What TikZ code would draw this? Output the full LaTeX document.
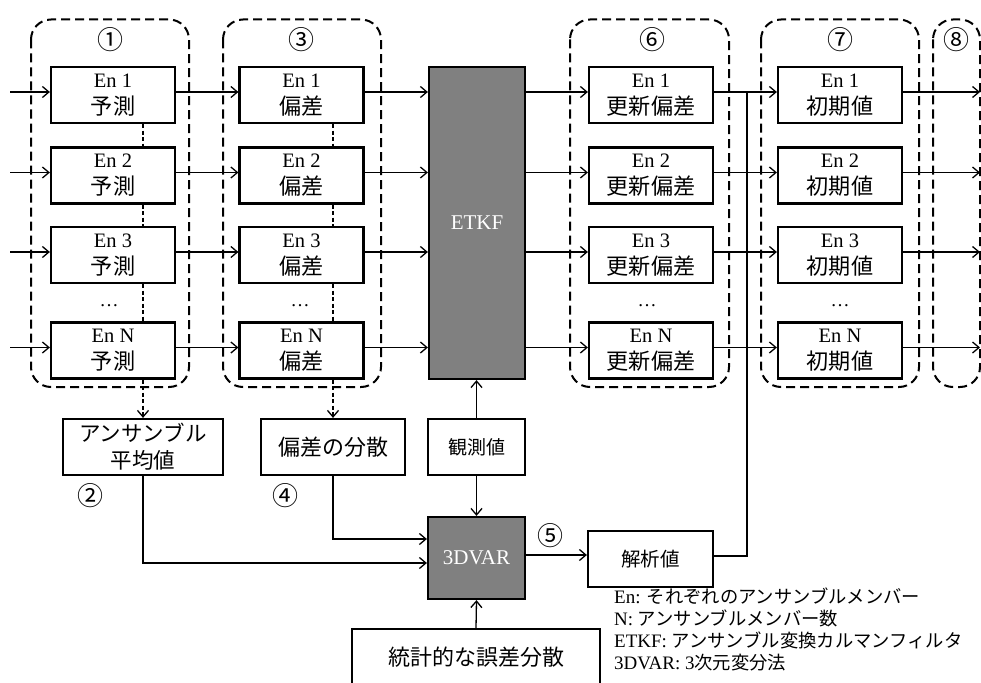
\documentclass[tikz,border=0pt]{standalone}
\usepackage{fontspec}
\setmainfont{Liberation Serif}
\newfontfamily\jp[Scale=1.08]{Noto Sans CJK JP}
\newfontfamily\jpl{Noto Sans CJK JP}
\usetikzlibrary{arrows.meta}
\tikzset{
  box/.style={draw, line width=2.2pt, fill=white, minimum width=124pt, minimum height=56pt,
    inner sep=0pt, align=center, font=\fontsize{20.5}{27}\selectfont},
  gray box/.style={draw, line width=2.2pt, fill={rgb,255:red,128;green,128;blue,128}, text=white,
    inner sep=0pt, align=center, font=\fontsize{21}{26}\selectfont},
  grp/.style={draw, line width=2pt, dash pattern=on 9pt off 5pt, rounded corners=20pt},
  arr/.style={-{Straight Barb[length=6.5pt,width=11pt]}, line width=1.3pt},
  darr/.style={-{Straight Barb[length=6.5pt,width=11pt]}, line width=1.3pt, dash pattern=on 4pt off 2.5pt},
  dline/.style={line width=1.3pt, dash pattern=on 4pt off 2.5pt},
  plain/.style={line width=1.3pt},
  num/.style={font=\jpl\fontsize{26}{26}\selectfont, inner sep=0pt},
  dots/.style={font=\fontsize{19}{19}\selectfont, inner sep=0pt},
}
\begin{document}
\begin{tikzpicture}[x=1pt,y=-1pt]
\useasboundingbox (0,0) rectangle (981,682);
\clip (0,0) rectangle (981,682);
% group frames
\draw[grp] (31,19.5) rectangle (189,387);
\draw[grp] (223,19.5) rectangle (381,387);
\draw[grp] (570,19.5) rectangle (729,387);
\draw[grp] (761,19.5) rectangle (919,387);
\draw[grp] (933,19.5) rectangle (980,387);
\node[num] (n1) at (110,40) {①};
\node[num] (n3) at (301,40) {③};
\node[num] (n6) at (652,40) {⑥};
\node[num] (n7) at (840,40) {⑦};
\node[num] (n8) at (956,40) {⑧};
% columns
\foreach \i/\y/\t in {1/95/1, 2/175.5/2, 3/255/3, 4/350.5/N} {
  \node[box] (a\i) at (113,\y) {En \t\\{\jp 予測}};
  \node[box] (b\i) at (301.5,\y) {En \t\\{\jp 偏差}};
  \node[box] (c\i) at (651,\y) {En \t\\{\jp 更新偏差}};
  \node[box] (d\i) at (840,\y) {En \t\\{\jp 初期値}};
}
\node[dots] (e1) at (109,306) {\dots};
\node[dots] (e3) at (300,306) {\dots};
\node[dots] (e6) at (647,306) {\dots};
\node[dots] (e7) at (840,306) {\dots};
\node[gray box, minimum width=96pt, minimum height=312pt] (etkf) at (477,223) {ETKF};
\coordinate (L) at (10,0);
\coordinate (R) at (980,0);
\coordinate (J) at (747,0);
\foreach \i in {1,2,3,4} {
  \draw[arr] ([yshift=3pt]a\i.west -| L) -- ([yshift=3pt]a\i.west);
  \draw[arr] ([yshift=3pt]a\i.east) -- ([yshift=3pt]b\i.west);
  \draw[arr] ([yshift=3pt]b\i.east) -- ([yshift=3pt]b\i.east -| etkf.west);
  \draw[arr] ([yshift=3pt]c\i.west -| etkf.east) -- ([yshift=3pt]c\i.west);
  \draw[arr] ([yshift=3pt]c\i.east) -- ([yshift=3pt]d\i.west);
  \draw[arr] ([yshift=3pt]d\i.east) -- ([yshift=3pt]d\i.east -| R);
}
% dotted connections inside groups
\coordinate (ax) at (143,0);
\coordinate (bx) at (333,0);
\draw[dline] (a1.south -| ax) -- (a2.north -| ax);
\draw[dline] (a2.south -| ax) -- (a3.north -| ax);
\draw[dline] (a3.south -| ax) -- (a4.north -| ax);
\draw[dline] (b1.south -| bx) -- (b2.north -| bx);
\draw[dline] (b2.south -| bx) -- (b3.north -| bx);
\draw[dline] (b3.south -| bx) -- (b4.north -| bx);
% lower boxes
\node[box, minimum width=160pt, font=\jpl\fontsize{21.5}{27}\selectfont] (ave) at (143,447) {アンサンブル\\平均値};
\node[box, minimum width=144pt, font=\jpl\fontsize{22}{27}\selectfont] (dev) at (333,447) {偏差の分散};
\node[box, minimum width=97pt, font=\jpl\fontsize{19}{22}\selectfont] (obs) at (476.5,447) {観測値};
\node[gray box, minimum width=97pt, minimum height=82pt] (var) at (476.5,558) {3DVAR};
\node[box, minimum width=125pt, font=\jpl\fontsize{19.5}{22}\selectfont] (ana) at (650.5,559) {解析値};
\node[box, minimum width=248pt, font=\jpl\fontsize{22}{27}\selectfont] (stat) at (476,657) {統計的な誤差分散};
\node[num] (n2) at (90,496) {②};
\node[num] (n4) at (285,496) {④};
\node[num] (n5) at (550,536) {⑤};
\draw[darr] (a4.south -| ax) -- (ave.north);
\draw[darr] (b4.south -| bx) -- (dev.north);
\draw[arr] (obs.north) -- (obs.north |- etkf.south);
\draw[arr] (obs.south) -- (var.north);
\draw[arr] (stat.north) -- (var.south);
\draw[arr] (ave.south) |- ([yshift=-5pt]var.west);
\draw[arr] (dev.south) |- ([yshift=19pt]var.west);
\draw[arr] ([yshift=3pt]var.east) -- ([yshift=3pt]var.east -| ana.west);
\draw[plain] ([yshift=3pt]ana.east) -| ([yshift=3pt]c1.east -| J);
% legend
\node[anchor=north west, align=left, inner sep=0pt, font=\fontsize{19}{22}\selectfont] (legend) at (614,588)
  {En: {\jpl\fontsize{18.3}{22}\selectfont それぞれのアンサンブルメンバー}\\
   N: {\jpl\fontsize{18.3}{22}\selectfont アンサンブルメンバー数}\\
   ETKF: {\jpl\fontsize{18.3}{22}\selectfont アンサンブル変換カルマンフィルタ}\\
   3DVAR: 3{\jpl\fontsize{18.3}{22}\selectfont 次元変分法}};
\end{tikzpicture}
\end{document}
